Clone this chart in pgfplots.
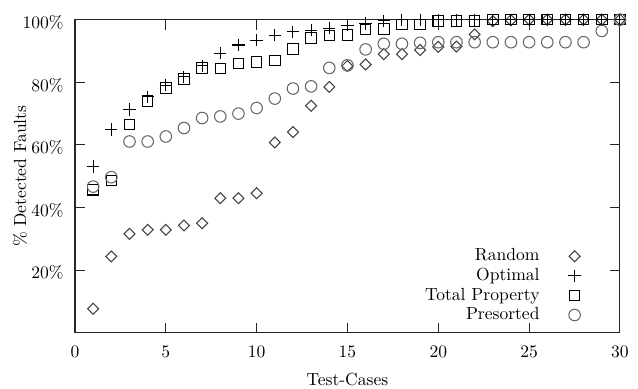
\documentclass[border=0pt]{standalone}
\usepackage{pgfplots}
\pgfplotsset{compat=1.18}
\begin{document}
\begin{tikzpicture}
\pgfplotsset{my legend/.style={legend image code/.code={\path[draw=none,fill=none] (0pt,-3pt) (22pt,3pt); \draw[##1] plot coordinates {(18pt,0pt)};}}}
\begin{axis}[
 scale only axis, width=310.7pt, height=178.6pt,
 xmin=0, xmax=30, ymin=0, ymax=100,
 xtick={0,5,...,30}, ytick={20,40,60,80,100},
 yticklabel={\pgfmathprintnumber{\tick}\%},
 major tick length=5.7pt,
 axis line style={black!85, line width=0.6pt},
 tick style={black!85, line width=0.6pt},
 xticklabel shift=4pt, yticklabel shift=3pt,
 yticklabel style={yshift=-1.5pt},
 xlabel={Test-Cases}, ylabel={\% Detected Faults},
 xlabel style={at={(axis description cs:0.5,-0.15)}, anchor=center},
 ylabel style={at={(axis description cs:-0.101,0.5)}, anchor=center},
 clip=false,
 legend cell align=right, legend plot pos=right,
 legend style={draw=none, fill=none, at={(axis description cs:0.94,0.01)}, anchor=south east, row sep=-1.3pt},
]
\addplot[only marks, my legend, mark=square, mark size=2.2pt, mark options={rotate=45, black!75, line width=0.6pt}] coordinates {
(1,7.7)(2,24.4)(3,31.6)(4,32.9)(5,32.9)(6,34.3)(7,35.0)(8,43.0)(9,43.0)(10,44.6)
(11,60.8)(12,64.1)(13,72.5)(14,78.5)(15,85.2)(16,85.7)(17,89.0)(18,89.0)(19,90.3)(20,91.3)
(21,91.4)(22,95.3)(23,99.5)(24,99.8)(25,100)(26,100)(27,100)(28,100)(29,100)(30,100)};
\addlegendentry{Random}
\addplot[only marks, my legend, mark=+, mark size=3.5pt, mark options={black, line width=0.6pt}] coordinates {
(1,53.1)(2,64.9)(3,71.3)(4,75.4)(5,79.1)(6,81.7)(7,85.3)(8,89.3)(9,91.9)(10,93.4)
(11,95.0)(12,96.1)(13,96.6)(14,97.3)(15,98.2)(16,98.8)(17,99.6)(18,100)(19,100)(20,100)
(21,100)(22,100)(23,100)(24,100)(25,100)(26,100)(27,100)(28,100)(29,100)(30,100)};
\addlegendentry{Optimal}
\addplot[only marks, my legend, mark=square, mark size=3pt, mark options={black, line width=0.6pt}] coordinates {
(1,45.7)(2,48.7)(3,66.5)(4,74.1)(5,78.2)(6,81.1)(7,84.6)(8,84.4)(9,86.0)(10,86.5)
(11,87.0)(12,90.7)(13,94.1)(14,94.9)(15,95.1)(16,96.9)(17,97.0)(18,98.5)(19,98.5)(20,99.6)
(21,99.6)(22,99.6)(23,100)(24,100)(25,100)(26,100)(27,100)(28,100)(29,100)(30,100)};
\addlegendentry{Total Property}
\addplot[only marks, my legend, mark=o, mark size=3.3pt, mark options={black!60, line width=0.6pt}] coordinates {
(1,46.7)(2,49.7)(3,61.1)(4,61.1)(5,62.7)(6,65.4)(7,68.6)(8,69.1)(9,70.0)(10,71.8)
(11,74.8)(12,78.0)(13,78.7)(14,84.6)(15,85.4)(16,90.5)(17,92.3)(18,92.3)(19,92.6)(20,92.8)
(21,92.8)(22,92.8)(23,92.8)(24,92.8)(25,92.8)(26,92.8)(27,92.8)(28,92.8)(29,96.4)(30,100)};
\addlegendentry{Presorted}
\end{axis}
\pgfresetboundingbox
\path ([shift={(-42.75pt,-31.9pt)}]current axis.south west) rectangle ([shift={(10.3pt,11.2pt)}]current axis.north east);
\end{tikzpicture}
\end{document}
